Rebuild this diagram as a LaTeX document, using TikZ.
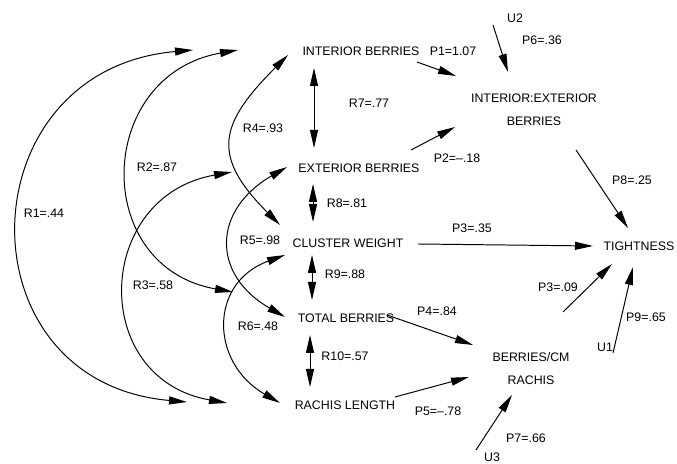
\documentclass[tikz,border=0pt]{standalone}
\usepackage{fontspec}
\setmainfont{Liberation Sans}
\usetikzlibrary{arrows.meta}

\begin{document}
\begin{tikzpicture}[x=0.025cm,y=0.025cm,line width=0.7pt,
    >={Triangle[length=4.5mm,width=2mm]},
    lbl/.style={font=\fontsize{8.8}{16.3}\selectfont,inner sep=1pt},
    var/.style={lbl,align=center}]
\useasboundingbox (0,0) rectangle (677,464);
% ---------- variables ----------
\node[var] (ib) at (361,413) {INTERIOR BERRIES};
\node[var] (eb) at (359,296) {EXTERIOR BERRIES};
\node[var] (cw) at (348,221) {CLUSTER WEIGHT};
\node[var] (tb) at (346,146) {TOTAL BERRIES};
\node[var] (rl) at (345,59) {RACHIS LENGTH};
\node[var] (ie) at (534,354) {INTERIOR:EXTERIOR\\BERRIES};
\node[var] (bc) at (531,95) {BERRIES/CM\\RACHIS};
\node[var] (tt) at (639,218) {TIGHTNESS};
% residuals
\node[lbl] (u1) at (605,117) {U1};
\node[lbl] (u2) at (515,446) {U2};
\node[lbl] (u3) at (492,7) {U3};
% ---------- path coefficients ----------
\node[lbl] (p1) at (453,413) {P1=1.07};
\node[lbl] (p2) at (457,306) {P2=--.18};
\node[lbl] (p3a) at (472,236) {P3=.35};
\node[lbl] (p3b) at (558,177) {P3=.09};
\node[lbl] (p4) at (437,153) {P4=.84};
\node[lbl] (p5) at (438,53) {P5=--.78};
\node[lbl] (p6) at (542,424) {P6=.36};
\node[lbl] (p7) at (526,26) {P7=.66};
\node[lbl] (p8) at (632,284) {P8=.25};
\node[lbl] (p9) at (646,147) {P9=.65};
% ---------- correlations ----------
\node[lbl] (r1) at (44,251) {R1=.44};
\node[lbl] (r2) at (157,297) {R2=.87};
\node[lbl] (r3) at (153,179) {R3=.58};
\node[lbl] (r4) at (263,336) {R4=.93};
\node[lbl] (r5) at (260,224) {R5=.98};
\node[lbl] (r6) at (258,138) {R6=.48};
\node[lbl] (r7) at (369,361) {R7=.77};
\node[lbl] (r8) at (347,261) {R8=.81};
\node[lbl] (r9) at (345,190) {R9=.88};
\node[lbl] (r10) at (345,108) {R10=.57};

% one-way paths
\draw[->] ([shift={(56,-11)}]ib.center) -- ([shift={(-78,34)}]ie.center);
\draw[->] ([shift={(-22,-7)}]u2.center) -- ([shift={(-26,38)}]ie.center);
\draw[->] ([shift={(52,18)}]eb.center) -- ([shift={(-79,-17)}]ie.center);
\draw[->] ([shift={(42,-40)}]ie.center) -- ([shift={(-11,18)}]tt.center);
\draw[->] ([shift={(70,-1)}]cw.center) -- ([shift={(-46,0)}]tt.center);
\draw[->] ([shift={(32,57)}]bc.center) -- ([shift={(-27,-18)}]tt.center);
\draw[->] ([shift={(8,-6)}]u1.center) -- ([shift={(-6,-21)}]tt.center);
\draw[->] ([shift={(41,3)}]tb.center) -- ([shift={(-58,24)}]bc.center);
\draw[->] ([shift={(50,8)}]rl.center) -- ([shift={(-62,-8)}]bc.center);
\draw[->] ([shift={(-16,7)}]u3.center) -- ([shift={(-19,-26)}]bc.center);

% straight two-way arrows
\draw[<->] ([shift={(-47,-17)}]ib.center) -- ([shift={(-45,20)}]eb.center);
\draw[<->] ([shift={(-46,-16)}]eb.center) -- ([shift={(-35,21)}]cw.center);
\draw[<->] ([shift={(-36,-12)}]cw.center) -- ([shift={(-34,18)}]tb.center);
\draw[<->] ([shift={(-36,-17)}]tb.center) -- ([shift={(-35,18)}]rl.center);

% curved two-way arrows
\draw[<->] ([shift={(-168,1)}]ib.center) to[out=185,in=175,looseness=1.66] ([shift={(-158,3)}]rl.center);
\draw[<->] ([shift={(-123,1)}]ib.center) to[out=190,in=170,looseness=1.53] ([shift={(-113,26)}]tb.center);
\draw[<->] ([shift={(-127,-4)}]eb.center) to[out=190,in=170,looseness=1.55] ([shift={(-118,2)}]rl.center);
\draw[<->] ([shift={(-73,-4)}]ib.center) to[out=225,in=135,looseness=1.47] ([shift={(-68,18)}]cw.center);
\draw[<->] ([shift={(-72,1)}]eb.center) to[out=210,in=150,looseness=1.46] ([shift={(-61,1)}]tb.center);
\draw[<->] ([shift={(-63,-12)}]cw.center) to[out=200,in=150,looseness=1.4] ([shift={(-65,2)}]rl.center);
\end{tikzpicture}
\end{document}
